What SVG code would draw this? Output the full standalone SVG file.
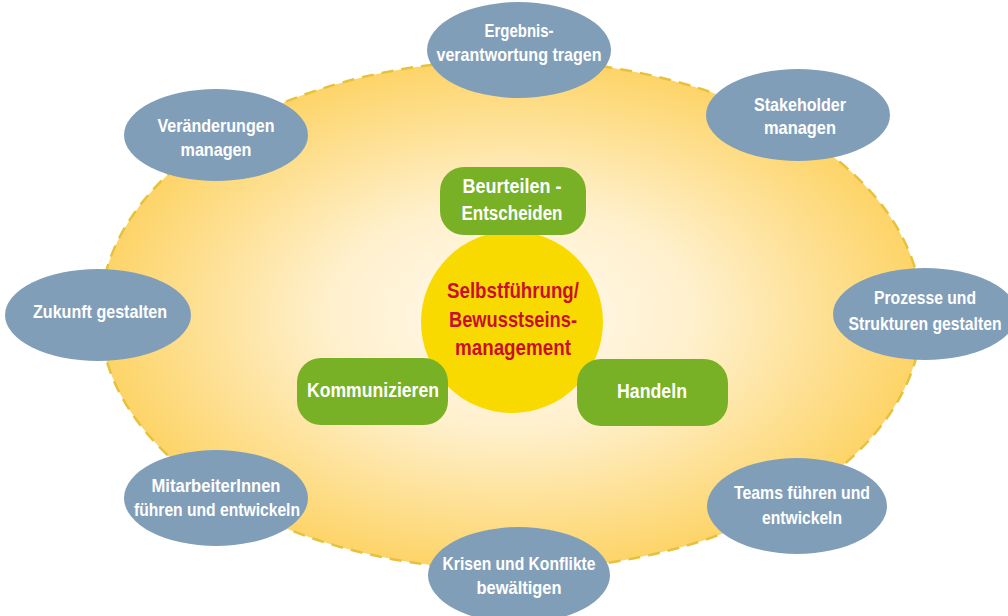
<svg xmlns="http://www.w3.org/2000/svg" width="1008" height="616" viewBox="0 0 1008 616">
<defs>
<radialGradient id="bg" cx="0.5" cy="0.5" r="0.5">
<stop offset="0" stop-color="#fffaf0"/>
<stop offset="0.45" stop-color="#fff0cc"/>
<stop offset="1" stop-color="#fdd468"/>
</radialGradient>
<style>
.blue{fill:#819eb9}
.green{fill:#78b125}
.t{font-family:"Liberation Sans",Arial,sans-serif;font-weight:bold;text-anchor:middle;fill:#ffffff}
.s{font-size:19px}
.m{font-size:20px}
.c{font-size:22px;fill:#c8102e}
</style>
</defs>
<rect width="1008" height="616" fill="#ffffff"/>
<g id="field">
<ellipse cx="511" cy="315" rx="411" ry="255" fill="url(#bg)" stroke="#e6c23c" stroke-width="2.5" stroke-dasharray="12 8"/>
</g>
<g id="connectors"></g>
<g id="center">
<circle cx="512" cy="322" r="91" fill="#f9da00"/>
<text class="t c" x="513" y="298" textLength="132" lengthAdjust="spacingAndGlyphs">Selbstführung/</text>
<text class="t c" x="513" y="327" textLength="128" lengthAdjust="spacingAndGlyphs">Bewusstseins-</text>
<text class="t c" x="513" y="355" textLength="116" lengthAdjust="spacingAndGlyphs">management</text>
</g>
<g id="beurteilen">
<rect class="green" x="440" y="167" width="146" height="68" rx="24"/>
<text class="t m" x="512" y="193" textLength="99" lengthAdjust="spacingAndGlyphs">Beurteilen -</text>
<text class="t m" x="512" y="220" textLength="101" lengthAdjust="spacingAndGlyphs">Entscheiden</text>
</g>
<g id="kommunizieren">
<rect class="green" x="297" y="358" width="151" height="67" rx="24"/>
<text class="t m" x="373" y="397" textLength="132" lengthAdjust="spacingAndGlyphs">Kommunizieren</text>
</g>
<g id="handeln">
<rect class="green" x="577" y="359" width="151" height="67" rx="24"/>
<text class="t m" x="652" y="398" textLength="70" lengthAdjust="spacingAndGlyphs">Handeln</text>
</g>
<g id="ergebnis">
<ellipse class="blue" cx="519" cy="50" rx="92" ry="48"/>
<text class="t s" x="519" y="37" textLength="69" lengthAdjust="spacingAndGlyphs">Ergebnis-</text>
<text class="t s" x="519" y="61" textLength="165" lengthAdjust="spacingAndGlyphs">verantwortung tragen</text>
</g>
<g id="stakeholder">
<ellipse class="blue" cx="798" cy="115" rx="92" ry="46"/>
<text class="t s" x="800" y="111" textLength="92" lengthAdjust="spacingAndGlyphs">Stakeholder</text>
<text class="t s" x="800" y="134" textLength="72" lengthAdjust="spacingAndGlyphs">managen</text>
</g>
<g id="prozesse">
<ellipse class="blue" cx="925" cy="314" rx="92" ry="46"/>
<text class="t s" x="925" y="304" textLength="102" lengthAdjust="spacingAndGlyphs">Prozesse und</text>
<text class="t s" x="925" y="330" textLength="153" lengthAdjust="spacingAndGlyphs">Strukturen gestalten</text>
</g>
<g id="teams">
<ellipse class="blue" cx="797" cy="506" rx="90" ry="48"/>
<text class="t s" x="802" y="499" textLength="136" lengthAdjust="spacingAndGlyphs">Teams führen und</text>
<text class="t s" x="802" y="524" textLength="80" lengthAdjust="spacingAndGlyphs">entwickeln</text>
</g>
<g id="krisen">
<ellipse class="blue" cx="519" cy="575" rx="91" ry="48"/>
<text class="t s" x="519" y="570" textLength="153" lengthAdjust="spacingAndGlyphs">Krisen und Konflikte</text>
<text class="t s" x="519" y="594" textLength="85" lengthAdjust="spacingAndGlyphs">bewältigen</text>
</g>
<g id="mitarbeiter">
<ellipse class="blue" cx="216" cy="498" rx="92" ry="48"/>
<text class="t s" x="216" y="492" textLength="129" lengthAdjust="spacingAndGlyphs">MitarbeiterInnen</text>
<text class="t s" x="217" y="516" textLength="166" lengthAdjust="spacingAndGlyphs">führen und entwickeln</text>
</g>
<g id="zukunft">
<ellipse class="blue" cx="98" cy="315" rx="93" ry="46"/>
<text class="t s" x="100" y="318" textLength="134" lengthAdjust="spacingAndGlyphs">Zukunft gestalten</text>
</g>
<g id="veraenderungen">
<ellipse class="blue" cx="216" cy="135" rx="92" ry="46"/>
<text class="t s" x="216" y="132" textLength="117" lengthAdjust="spacingAndGlyphs">Veränderungen</text>
<text class="t s" x="216" y="156" textLength="71" lengthAdjust="spacingAndGlyphs">managen</text>
</g>
</svg>
